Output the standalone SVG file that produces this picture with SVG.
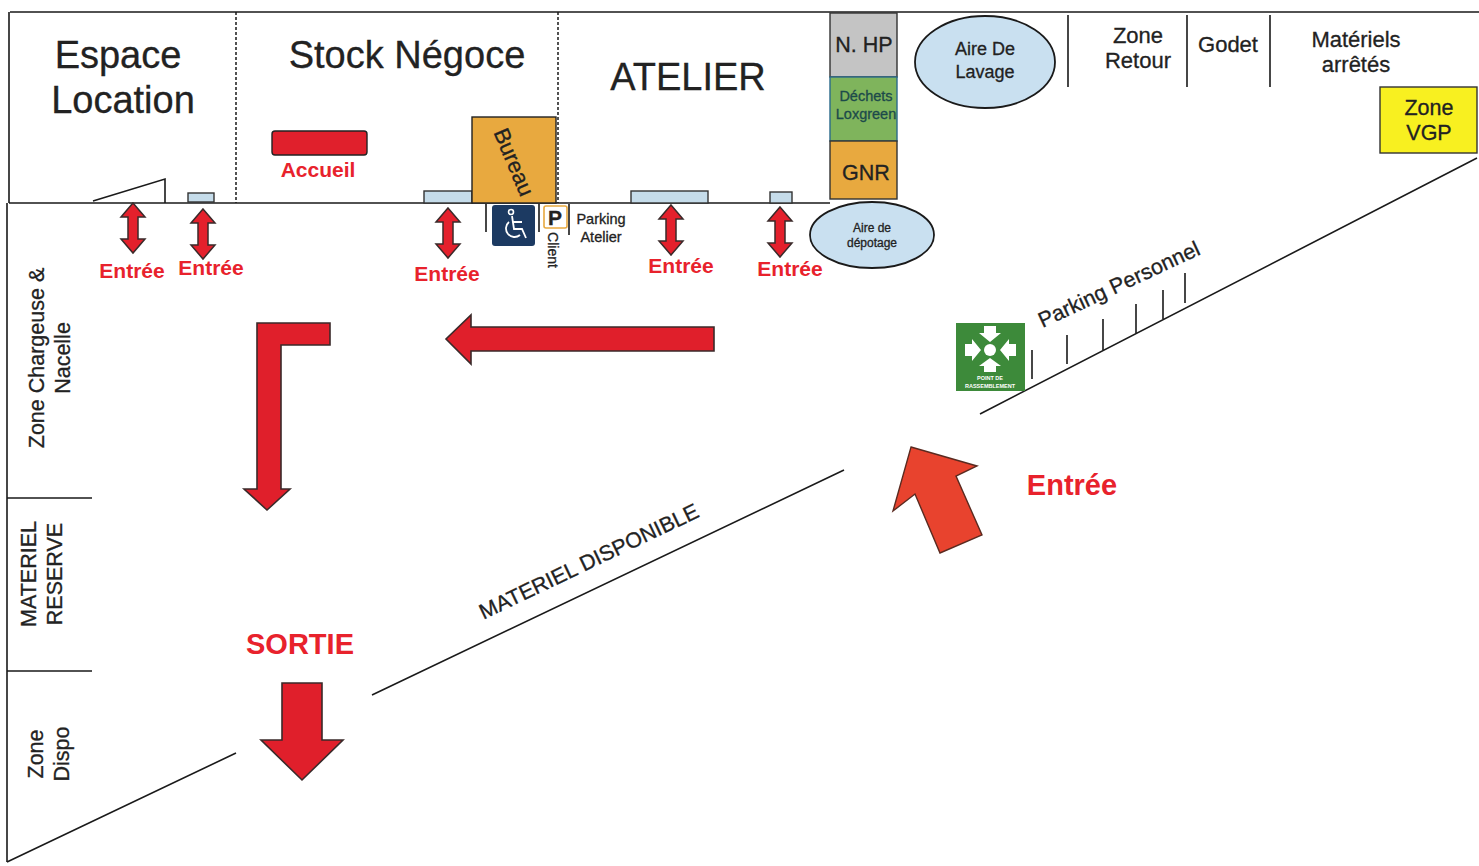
<svg xmlns="http://www.w3.org/2000/svg" width="1479" height="866" viewBox="0 0 1479 866">
<style>
text{font-family:"Liberation Sans",Arial,sans-serif;fill:#222;stroke:#222;stroke-width:.3;text-anchor:middle}
.l{fill:none;stroke:#1a1a1a;stroke-width:1.6}
.d{fill:none;stroke:#1a1a1a;stroke-width:1.5;stroke-dasharray:3 2}
.win{fill:#c5dcea;stroke:#333;stroke-width:1.4}
text.ent{fill:#e8222c;stroke:none;font-weight:bold;font-size:21px}
text.ent2{fill:#e8222c;stroke:none;font-weight:bold;font-size:29px}
.big{fill:#e01f2b;stroke:#3a2a2a;stroke-width:1.6}
.ell{fill:#c9e0f0;stroke:#1a1a1a;stroke-width:1.8}
.t22{font-size:21.500px}
.t20{font-size:22px}
.r{font-size:21.500px}
text.w{fill:#fff;stroke:none;font-size:5.500px;font-weight:bold}
</style>
<defs>
<path id="dbl" d="M0,-25 L12,-11 L5,-11 L5,11 L12,11 L0,25 L-12,11 L-5,11 L-5,-11 L-12,-11 Z" fill="#e4202c" stroke="#3a2a2a" stroke-width="1.5"/>
</defs>
<rect width="1479" height="866" fill="#fff"/>
<g id="walls">
<path class="l" d="M10,12 H1479 M9,12 V203 M7,203 V862 M9,203 H830"/>
<path class="d" d="M236,12 V203 M558,12 V203"/>
<path class="l" d="M93,201 L165,179 V203"/>
<path class="l" d="M7,498 H92 M7,671 H92"/>
<path class="l" d="M1068,15 V87 M1187,15 V87 M1270,15 V87"/>
</g>
<g id="connectors">
<path class="l" d="M7,862 L236,753 M372,695 L844,470 M980,414 L1477,158"/>
<path class="l" d="M1032,350 V379 M1067,335 V364 M1103,319 V350 M1136,304 V333 M1163,290 V319 M1185,273 V303"/>
<path class="l" d="M486,204 V232 M539,204 V232 M569,204 V235"/>
<use href="#dbl" x="133" y="228"/>
<use href="#dbl" x="203" y="234"/>
<use href="#dbl" x="448" y="233"/>
<use href="#dbl" x="671" y="230"/>
<use href="#dbl" x="780" y="232"/>
<path class="big" d="M714,327 V351 H471 V364 L446,339 L471,315 V327 Z"/>
<path class="big" d="M330,323 V345 H281 V489 H290 L267,510 L244,489 H257 V323 Z"/>
<path class="big" d="M282,683 H322 V740 H343 L302,780 L261,740 H282 Z"/>
<path d="M911,447 L977,466 L956,476 L982,535 L940,553 L915,494 L893,511 Z" fill="#e8432e" stroke="#5a2a20" stroke-width="1.4"/>
</g>
<g id="espace-location"><text x="118" y="68" font-size="38">Espace</text><text x="123" y="113" font-size="38">Location</text>
<rect class="win" x="188" y="193" width="26" height="9"/></g>
<g id="stock-negoce"><text x="407" y="68" font-size="38">Stock Négoce</text>
<rect class="win" x="424" y="191" width="48" height="12"/></g>
<g id="atelier"><text x="688" y="90" font-size="38">ATELIER</text>
<rect class="win" x="631" y="191" width="77" height="12"/><rect class="win" x="770" y="192" width="22" height="11"/></g>
<g id="accueil"><rect x="272" y="131" width="95" height="24" rx="3" fill="#e0202c" stroke="#222" stroke-width="1.4"/><text x="318" y="177" class="ent">Accueil</text></g>
<g id="bureau"><rect x="472" y="117" width="84" height="86" fill="#e8a93f" stroke="#222" stroke-width="1.4"/><text transform="translate(507,165) rotate(67)" font-size="22">Bureau</text></g>
<g id="handicap"><rect x="492" y="205" width="43" height="41" rx="3" fill="#1c3a62"/>
<circle cx="511" cy="212" r="2.500" fill="none" stroke="#fff" stroke-width="1.6"/>
<path d="M512,216 L514,229 H522 L526,238 M513,222 H522" fill="none" stroke="#fff" stroke-width="1.8"/>
<path d="M509,222 A8,8 0 1 0 520,235" fill="none" stroke="#fff" stroke-width="1.8"/></g>
<g id="parking-client"><rect x="544" y="206" width="23" height="22" rx="2" fill="#fff" stroke="#e8a93f" stroke-width="1.6"/><text x="555" y="225" font-size="21" font-weight="bold">P</text>
<text transform="translate(548,250) rotate(90)" font-size="14">Client</text></g>
<g id="parking-atelier"><text x="601" y="224" font-size="14.500">Parking</text><text x="601" y="242" font-size="14.500">Atelier</text></g>
<g id="n-hp"><rect x="830" y="13" width="67" height="64" fill="#c4c4c4" stroke="#333" stroke-width="1.4"/><text x="864" y="52" class="t22">N. HP</text></g>
<g id="dechets"><rect x="830" y="77" width="67" height="64" fill="#7fb45c" stroke="#2a6a8a" stroke-width="1.4"/><text x="866" y="101" font-size="14.500" style="fill:#1c4a4a;stroke:#1c4a4a">Déchets</text><text x="866" y="119" font-size="14.500" style="fill:#1c4a4a;stroke:#1c4a4a">Loxgreen</text></g>
<g id="gnr"><rect x="830" y="141" width="67" height="58" fill="#e8a93f" stroke="#333" stroke-width="1.4"/><text x="866" y="180" class="t22">GNR</text></g>
<g id="aire-lavage"><ellipse class="ell" cx="985" cy="62" rx="70" ry="46"/><text x="985" y="55" font-size="18">Aire De</text><text x="985" y="78" font-size="18">Lavage</text></g>
<g id="aire-depotage"><ellipse class="ell" cx="872" cy="235" rx="62" ry="33"/><text x="872" y="232" font-size="12">Aire de</text><text x="872" y="247" font-size="12">dépotage</text></g>
<g id="zone-retour"><text x="1138" y="43" class="t20">Zone</text><text x="1138" y="68" class="t20">Retour</text></g>
<g id="godet"><text x="1228" y="52" class="t20">Godet</text></g>
<g id="materiels"><text x="1356" y="47" class="t20">Matériels</text><text x="1356" y="72" class="t20">arrêtés</text></g>
<g id="zone-vgp"><rect x="1380" y="87" width="97" height="66" fill="#f8f020" stroke="#333" stroke-width="1.4"/><text x="1429" y="115" class="t22">Zone</text><text x="1429" y="140" class="t22">VGP</text></g>
<g id="rassemblement"><rect x="956" y="323" width="69" height="68" fill="#3d8a3a"/>
<g fill="#fff"><circle cx="990" cy="350" r="6"/>
<path d="M984,326 H996 V333 H1001 L990,342 L979,333 H984 Z"/>
<path d="M984,372 H996 V366 H1001 L990,358 L979,366 H984 Z"/>
<path d="M965,344 V356 H972 V361 L981,350 L972,339 V344 Z"/>
<path d="M1016,344 V356 H1009 V361 L1000,350 L1009,339 V344 Z"/></g>
<text x="990" y="380" class="w">POINT DE</text><text x="990" y="388" class="w">RASSEMBLEMENT</text></g>
<g id="labels">
<text x="132" y="278" class="ent">Entrée</text><text x="211" y="275" class="ent">Entrée</text><text x="447" y="281" class="ent">Entrée</text><text x="681" y="273" class="ent">Entrée</text><text x="790" y="276" class="ent">Entrée</text>
<text x="1072" y="495" class="ent2">Entrée</text>
<text x="300" y="654" class="ent2">SORTIE</text>
<text transform="translate(1122,291) rotate(-25)" class="r">Parking Personnel</text>
<text transform="translate(592,568) rotate(-25.500)" class="r">MATERIEL DISPONIBLE</text>
<text transform="translate(44,358) rotate(-90)" class="r">Zone Chargeuse &amp;</text>
<text transform="translate(70,358) rotate(-90)" class="r">Nacelle</text>
<text transform="translate(36,574) rotate(-90)" class="r">MATERIEL</text>
<text transform="translate(62,574) rotate(-90)" class="r">RESERVE</text>
<text transform="translate(43,754) rotate(-90)" class="r">Zone</text>
<text transform="translate(69,754) rotate(-90)" class="r">Dispo</text>
</g>
</svg>
